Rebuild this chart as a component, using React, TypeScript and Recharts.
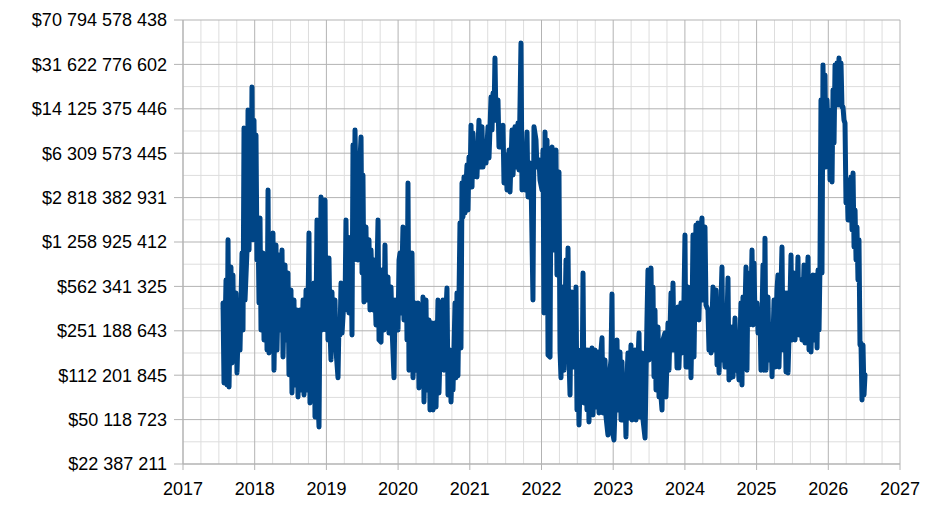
import React from 'react';
import { LineChart, Line, XAxis, YAxis, CartesianGrid, ReferenceLine } from 'recharts';

const yearTicks = [2017, 2018, 2019, 2020, 2021, 2022, 2023, 2024, 2025, 2026, 2027];
const yTicks = [22387211, 50118723, 112201845, 251188643, 562341325, 1258925412, 2818382931, 6309573445, 14125375446, 31622776602, 70794578438];

const dates = [
  2017.558, 2017.572, 2017.600, 2017.614, 2017.628, 2017.642, 2017.669, 2017.683, 2017.697, 2017.711,
  2017.739, 2017.753, 2017.781, 2017.795, 2017.823, 2017.837, 2017.851, 2017.865, 2017.893, 2017.907,
  2017.921, 2017.934, 2017.948, 2017.962, 2017.976, 2017.990, 2018.004, 2018.018, 2018.032, 2018.046,
  2018.060, 2018.074, 2018.088, 2018.116, 2018.130, 2018.158, 2018.172, 2018.186, 2018.199, 2018.227,
  2018.241, 2018.255, 2018.269, 2018.297, 2018.311, 2018.339, 2018.353, 2018.381, 2018.395, 2018.423,
  2018.437, 2018.464, 2018.478, 2018.506, 2018.520, 2018.548, 2018.562, 2018.590, 2018.604, 2018.632,
  2018.646, 2018.674, 2018.688, 2018.716, 2018.729, 2018.757, 2018.771, 2018.799, 2018.813, 2018.827,
  2018.841, 2018.869, 2018.883, 2018.897, 2018.911, 2018.925, 2018.939, 2018.953,
  2018.967, 2018.981, 2018.994, 2019.008, 2019.022, 2019.036, 2019.050, 2019.064, 2019.078, 2019.092,
  2019.120, 2019.134, 2019.162, 2019.176, 2019.190, 2019.204, 2019.218, 2019.245, 2019.259, 2019.273,
  2019.287, 2019.301, 2019.315, 2019.343, 2019.357, 2019.371, 2019.385, 2019.399, 2019.427, 2019.441,
  2019.469, 2019.483, 2019.497, 2019.510, 2019.524, 2019.552, 2019.566, 2019.594, 2019.608, 2019.622,
  2019.650, 2019.664, 2019.692, 2019.706, 2019.720, 2019.734, 2019.762, 2019.775, 2019.803, 2019.817,
  2019.831, 2019.859, 2019.873, 2019.901, 2019.915, 2019.943, 2019.957, 2019.971, 2019.999, 2020.013,
  2020.027, 2020.040, 2020.068, 2020.082, 2020.110, 2020.124, 2020.138, 2020.152, 2020.180, 2020.194,
  2020.208, 2020.236, 2020.250, 2020.278, 2020.291, 2020.319, 2020.333, 2020.347, 2020.361, 2020.389,
  2020.403, 2020.431, 2020.445, 2020.473, 2020.487,
  2020.515, 2020.529, 2020.556, 2020.570, 2020.598, 2020.612, 2020.626, 2020.640, 2020.668, 2020.682,
  2020.696, 2020.724, 2020.738, 2020.752, 2020.766, 2020.794, 2020.808, 2020.821, 2020.835, 2020.863,
  2020.877, 2020.891, 2020.905, 2020.919, 2020.933, 2020.947, 2020.961, 2020.975, 2020.989, 2021.003,
  2021.017, 2021.031, 2021.045, 2021.059, 2021.086, 2021.100, 2021.128, 2021.142, 2021.170, 2021.184,
  2021.212, 2021.226, 2021.254, 2021.268, 2021.296, 2021.310, 2021.324, 2021.337, 2021.351, 2021.365,
  2021.393, 2021.407, 2021.435, 2021.449, 2021.463, 2021.477, 2021.505, 2021.519, 2021.547, 2021.561,
  2021.589, 2021.603, 2021.630, 2021.644, 2021.672, 2021.686, 2021.714, 2021.728, 2021.756, 2021.770,
  2021.798, 2021.812, 2021.840, 2021.854, 2021.881, 2021.895, 2021.923, 2021.937, 2021.965, 2021.979,
  2022.007, 2022.021, 2022.035,
  2022.049, 2022.063, 2022.077, 2022.091, 2022.119, 2022.133, 2022.147, 2022.174, 2022.202, 2022.216,
  2022.244, 2022.258, 2022.272, 2022.286, 2022.300, 2022.314, 2022.342, 2022.356, 2022.370, 2022.384,
  2022.398, 2022.411, 2022.425, 2022.439, 2022.467, 2022.481, 2022.495, 2022.509, 2022.523, 2022.551,
  2022.565, 2022.579, 2022.593, 2022.621, 2022.634, 2022.648, 2022.662, 2022.690, 2022.704, 2022.718,
  2022.746, 2022.760, 2022.788, 2022.802, 2022.830, 2022.844, 2022.858, 2022.886, 2022.900, 2022.927,
  2022.941, 2022.969, 2022.983, 2022.997, 2023.011, 2023.039, 2023.053, 2023.067, 2023.095, 2023.109,
  2023.123, 2023.137, 2023.164, 2023.178, 2023.192, 2023.206, 2023.220, 2023.248, 2023.262, 2023.290,
  2023.304, 2023.318, 2023.346, 2023.360, 2023.374, 2023.402, 2023.416, 2023.444, 2023.457, 2023.471,
  2023.485, 2023.499, 2023.527, 2023.541, 2023.555, 2023.569,
  2023.583, 2023.597, 2023.625, 2023.639, 2023.653, 2023.667, 2023.681, 2023.694, 2023.722, 2023.736,
  2023.764, 2023.778, 2023.806, 2023.820, 2023.834, 2023.848, 2023.876, 2023.890, 2023.904, 2023.917,
  2023.945, 2023.959, 2023.987, 2024.001, 2024.015, 2024.043, 2024.057, 2024.071, 2024.085, 2024.099,
  2024.113, 2024.127, 2024.154, 2024.168, 2024.182, 2024.196, 2024.224, 2024.238, 2024.252, 2024.280,
  2024.294, 2024.322, 2024.336, 2024.350, 2024.364, 2024.392, 2024.406, 2024.434, 2024.448, 2024.462,
  2024.476, 2024.504, 2024.517, 2024.531, 2024.545, 2024.559, 2024.587, 2024.601, 2024.615, 2024.629,
  2024.643, 2024.657, 2024.671, 2024.699, 2024.713, 2024.740, 2024.754, 2024.782, 2024.796, 2024.810,
  2024.824, 2024.852, 2024.866, 2024.880, 2024.894, 2024.922, 2024.936, 2024.950, 2024.964, 2024.978,
  2025.006, 2025.020, 2025.047, 2025.061, 2025.089, 2025.103,
  2025.117, 2025.131, 2025.159, 2025.173, 2025.201, 2025.215, 2025.243, 2025.257, 2025.284, 2025.298,
  2025.312, 2025.340, 2025.354, 2025.368, 2025.396, 2025.410, 2025.424, 2025.438, 2025.466, 2025.480,
  2025.494, 2025.522, 2025.536, 2025.564, 2025.577, 2025.591, 2025.619, 2025.633, 2025.661, 2025.675,
  2025.703, 2025.717, 2025.731, 2025.745, 2025.759, 2025.787, 2025.801, 2025.829, 2025.843, 2025.857,
  2025.871, 2025.884, 2025.898, 2025.912, 2025.926, 2025.940, 2025.954, 2025.968, 2025.982, 2025.996,
  2026.010, 2026.024, 2026.038, 2026.052, 2026.066, 2026.080, 2026.094, 2026.107, 2026.121, 2026.135,
  2026.149, 2026.163, 2026.177, 2026.191, 2026.205, 2026.219, 2026.233, 2026.247, 2026.261, 2026.275,
  2026.289, 2026.303, 2026.317, 2026.331, 2026.345, 2026.359, 2026.373, 2026.387, 2026.400, 2026.414,
  2026.428, 2026.442, 2026.456, 2026.470, 2026.484, 2026.498, 2026.512,
];

const volumes = [
  4.16e8, 9.74e7, 6.32e8, 9.40e7, 1.31e9, 9.06e7, 8.00e8, 1.40e8, 6.92e8, 1.48e8,
  4.99e8, 1.17e8, 4.39e8, 1.77e8, 1.03e9, 2.55e8, 9.97e9, 4.39e8, 1.09e9, 1.38e10,
  1.09e9, 5.58e9, 1.57e9, 2.10e10, 1.31e9, 1.15e10, 1.71e9, 8.78e9, 9.08e8, 1.88e9,
  4.16e8, 1.95e9, 2.55e8, 1.03e9, 2.13e8, 7.57e8, 1.77e8, 3.24e9, 1.68e8, 1.09e9,
  1.94e8, 1.48e9, 1.23e8, 1.19e9, 1.77e8, 9.94e8, 2.55e8, 1.09e9, 1.56e8, 8.29e8,
  2.13e8, 7.17e8, 1.13e8, 5.27e8, 8.13e7, 4.39e8, 9.40e7, 3.67e8, 7.56e7, 3.67e8,
  8.58e7, 4.39e8, 7.84e7, 5.27e8, 8.58e7, 1.48e9, 6.78e7, 4.99e8, 7.84e7, 5.98e8,
  5.26e7, 1.88e9, 7.15e7, 4.38e7, 4.39e8, 2.85e9, 2.55e8, 1.88e9,
  3.06e8, 2.70e9, 2.55e8, 9.08e8, 2.13e8, 9.42e8, 2.55e8, 1.48e8, 5.08e8, 1.94e8,
  4.39e8, 1.77e8, 1.07e8, 3.06e8, 2.33e8, 5.98e8, 2.41e8, 4.39e8, 3.67e8, 1.88e9,
  4.64e8, 1.38e9, 3.47e8, 1.31e9, 2.33e8, 7.32e9, 9.08e8, 9.61e9, 1.09e9, 9.08e8,
  5.58e9, 8.47e9, 7.17e8, 4.25e9, 4.24e8, 1.65e9, 4.39e8, 1.31e9, 3.67e8, 1.09e9,
  3.67e8, 9.08e8, 2.79e8, 7.57e8, 1.88e9, 2.13e8, 2.05e8, 7.57e8, 2.55e8, 1.19e9,
  3.06e8, 6.67e8, 2.41e8, 5.57e8, 2.69e8, 1.07e8, 4.39e8, 4.16e8, 2.55e8, 9.08e8,
  1.03e9, 3.47e8, 1.65e9, 3.06e8, 1.57e9, 2.13e8, 3.67e9, 1.23e8, 7.57e8, 1.03e9,
  1.07e8, 4.16e8, 1.23e8, 4.16e8, 8.90e7, 3.67e8, 1.03e8, 4.64e8, 6.90e7, 4.39e8,
  8.58e7, 3.06e8, 5.97e7, 2.89e8, 5.97e7,
  2.89e8, 6.30e7, 4.39e8, 8.13e7, 3.06e8, 1.68e8, 4.39e8, 1.23e8, 3.67e8, 5.47e8,
  7.84e7, 1.77e8, 6.90e7, 1.23e8, 8.58e7, 4.16e8, 1.07e8, 4.99e8, 1.11e8, 1.78e9,
  1.84e8, 3.67e9, 1.98e9, 4.10e9, 2.13e9, 3.54e9, 5.09e9, 2.25e9, 5.89e9, 3.42e9,
  1.05e10, 3.42e9, 9.11e9, 4.10e9, 5.38e9, 4.10e9, 1.15e10, 4.91e9, 1.02e10, 4.91e9,
  7.73e9, 5.28e9, 1.02e10, 5.78e9, 1.75e10, 9.61e9, 1.88e10, 1.15e10, 3.55e10, 1.15e10,
  1.66e10, 7.06e9, 1.02e10, 7.06e9, 1.05e10, 3.67e9, 6.11e9, 3.24e9, 6.69e9, 3.12e9,
  9.61e9, 4.25e9, 1.02e10, 4.91e9, 1.09e10, 4.65e9, 4.66e10, 3.24e9, 7.06e9, 3.24e9,
  9.27e9, 2.85e9, 5.28e9, 4.10e9, 4.39e8, 1.02e10, 8.02e9, 4.91e9, 5.58e9, 3.88e9,
  3.24e9, 6.69e9, 3.47e8,
  9.27e9, 3.87e8, 8.02e9, 1.62e8, 1.56e8, 6.69e9, 7.06e9, 1.09e9, 6.69e9, 6.92e8,
  4.49e9, 1.77e8, 1.07e8, 4.39e8, 5.57e8, 1.23e8, 9.08e8, 1.77e8, 1.13e9, 1.48e8,
  7.84e7, 3.67e8, 5.08e8, 1.30e8, 2.13e8, 5.57e8, 5.97e7, 1.77e8, 4.55e7, 1.77e8,
  7.15e7, 7.17e8, 6.78e7, 1.77e8, 5.97e7, 1.77e8, 4.80e7, 1.62e8, 1.84e8, 5.45e7,
  1.77e8, 6.30e7, 1.71e8, 5.65e7, 1.77e8, 2.21e8, 5.65e7, 1.48e8, 5.26e7, 3.79e7,
  1.03e8, 1.48e8, 4.90e8, 3.79e7, 3.46e7, 1.03e8, 2.13e8, 5.97e7, 1.71e8, 4.98e7,
  1.43e8, 4.98e7, 8.58e7, 3.66e7, 1.03e8, 1.68e8, 5.16e7, 1.94e8, 4.98e7, 1.48e8,
  1.77e8, 4.98e7, 1.48e8, 2.41e8, 5.26e7, 1.68e8, 4.98e7, 3.59e7, 1.03e8, 3.06e8,
  7.57e8, 1.48e8, 7.86e8, 1.94e8, 5.57e8, 1.09e8,
  3.67e8, 8.58e7, 2.69e8, 7.56e7, 1.09e8, 7.56e7, 5.97e7, 2.13e8, 2.41e8, 7.56e7,
  2.89e8, 1.23e8, 4.99e8, 1.77e8, 5.98e8, 1.77e8, 3.47e8, 1.28e8, 3.87e8, 1.28e8,
  4.16e8, 1.68e8, 4.39e8, 1.43e9, 1.30e8, 5.57e8, 1.30e8, 4.64e8, 1.07e8, 3.06e8,
  1.43e9, 1.56e8, 1.71e9, 4.16e8, 1.78e9, 3.06e8, 1.62e9, 1.95e9, 4.39e8, 1.65e9,
  4.01e8, 3.67e8, 1.77e8, 2.41e8, 1.68e8, 5.57e8, 1.77e8, 5.27e8, 1.35e8, 3.23e8,
  1.17e8, 4.39e8, 8.00e8, 1.48e8, 1.87e8, 1.30e8, 3.06e8, 6.55e8, 1.03e8, 2.69e8,
  1.07e8, 2.69e8, 1.09e8, 3.17e8, 1.23e8, 1.48e8, 1.03e8, 4.16e8, 9.40e7, 4.64e8,
  1.68e8, 8.00e8, 1.23e8, 7.17e8, 2.79e8, 4.39e8, 1.09e9, 2.79e8, 8.60e8, 2.89e8,
  4.16e8, 2.41e8, 3.47e8, 1.23e8, 8.29e8, 1.23e8,
  1.35e9, 1.23e8, 4.64e8, 1.48e8, 2.79e8, 1.09e8, 4.39e8, 1.30e8, 5.27e8, 6.92e8,
  1.30e8, 5.27e8, 1.15e9, 1.77e8, 4.99e8, 1.19e8, 4.99e8, 1.17e8, 4.39e8, 9.94e8,
  2.13e8, 7.17e8, 2.13e8, 4.39e8, 9.59e8, 2.33e8, 6.32e8, 2.13e8, 8.29e8, 2.01e8,
  5.27e8, 9.59e8, 1.77e8, 4.16e8, 1.71e8, 6.92e8, 2.13e8, 6.92e8, 1.84e8, 7.57e8,
  2.55e8, 8.29e8, 1.66e10, 7.17e8, 3.13e10, 5.58e9, 2.61e10, 4.91e9, 1.66e10, 9.61e9,
  1.38e10, 3.88e9, 9.61e9, 3.74e9, 1.99e10, 7.59e9, 3.13e10, 1.57e10, 3.24e10, 1.51e10,
  3.55e10, 1.51e10, 3.24e10, 1.46e10, 1.46e10, 1.15e10, 1.09e10, 2.56e9, 3.88e9, 1.88e9,
  3.88e9, 1.88e9, 4.10e9, 1.57e9, 4.41e9, 1.15e9, 2.25e9, 9.08e8, 1.65e9, 6.32e8,
  1.31e9, 1.94e8, 2.01e8, 7.15e7, 1.94e8, 7.84e7, 1.13e8,
];

const data = dates.map((t, i) => ({ t, v: volumes[i] }));

// minor grid: quarter years and geometric midpoints between y ticks
const xMinor: number[] = [];
for (let i = 0; i < yearTicks.length - 1; i++) {
  for (let q = 1; q < 4; q++) xMinor.push(yearTicks[i] + q / 4);
}
const yMinor: number[] = [];
for (let i = 0; i < yTicks.length - 1; i++) yMinor.push(Math.sqrt(yTicks[i] * yTicks[i + 1]));

const fmtMoney = (v: number) => '$' + String(Math.round(v)).replace(/\B(?=(\d{3})+(?!\d))/g, ' ');

const FONT = "'Liberation Sans', Arial, sans-serif";
const MAJOR = '#b3b3b3';
const MINOR = '#dddddd';

export default function App() {
  return (
    <div style={{ position: 'absolute', left: 0, top: 0, width: 942, height: 511, background: '#fff' }}>
      <LineChart width={942} height={511} data={data} margin={{ top: 20, right: 42, bottom: 0, left: 0 }}>
        {xMinor.map((x) => (
          <ReferenceLine key={'xm' + x} x={x} stroke={MINOR} strokeWidth={1} zIndex={-150} />
        ))}
        {yMinor.map((y) => (
          <ReferenceLine key={'ym' + y} y={y} stroke={MINOR} strokeWidth={1} zIndex={-150} />
        ))}
        <CartesianGrid stroke={MAJOR} strokeWidth={1} />
        <XAxis
          dataKey="t"
          type="number"
          domain={[2017, 2027]}
          ticks={yearTicks}
          allowDataOverflow
          height={47}
          tickSize={6}
          tickMargin={12}
          stroke={MAJOR}
          tick={{ fill: '#000', fontSize: 18, fontFamily: FONT }}
          tickLine={{ stroke: MAJOR }}
          axisLine={{ stroke: MAJOR }}
        />
        <YAxis
          type="number"
          scale="log"
          domain={[yTicks[0], yTicks[yTicks.length - 1]]}
          ticks={yTicks}
          allowDataOverflow
          width={183}
          tickSize={9}
          tickMargin={7}
          interval={0}
          tickFormatter={fmtMoney}
          stroke={MAJOR}
          tick={{ fill: '#000', fontSize: 18, fontFamily: FONT }}
          tickLine={{ stroke: MAJOR }}
          axisLine={{ stroke: MAJOR }}
        />
        <Line
          dataKey="v"
          type="linear"
          stroke="#004586"
          strokeWidth={5}
          strokeLinejoin="round"
          strokeLinecap="round"
          dot={false}
          activeDot={false}
          isAnimationActive={false}
        />
      </LineChart>
    </div>
  );
}
